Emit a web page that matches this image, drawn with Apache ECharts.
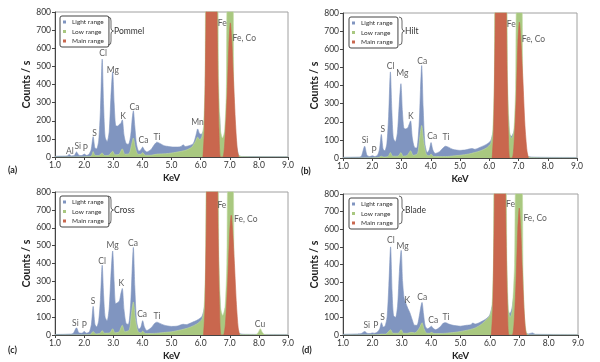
<!DOCTYPE html>
<html><head><meta charset="utf-8">
<script src="https://cdn.jsdelivr.net/npm/echarts@6/dist/echarts.min.js"></script>
<style>html,body{margin:0;padding:0;background:#fff}#c{width:600px;height:362px}</style>
</head><body><div id="c"></div>
<script>
// ---------- DATA (keV, counts/s) ----------
const seriesNames = ['Light range', 'Low range', 'Main range'];
const panelNames = ['Pommel', 'Hilt', 'Cross', 'Blade'];
const panelTags = ['(a)', '(b)', '(c)', '(d)'];
const xTicks = [1, 2, 3, 4, 5, 6, 7, 8, 9];
const yTicks = [0, 100, 200, 300, 400, 500, 600, 700, 800];

const lightA = [[1.0,4],[1.3,5],[1.42,6],[1.49,14],[1.56,6],[1.66,8],[1.74,28],[1.82,10],[1.92,8],[2.01,16],[2.08,9],[2.16,14],[2.24,40],[2.31,112],[2.37,50],[2.43,45],[2.5,90],[2.56,260],[2.62,540],[2.67,280],[2.72,110],[2.79,85],[2.86,140],[2.92,330],[2.98,470],[3.03,300],[3.08,175],[3.14,170],[3.21,180],[3.26,185],[3.31,205],[3.37,120],[3.44,75],[3.52,70],[3.6,120],[3.65,210],[3.69,255],[3.74,170],[3.8,70],[3.88,32],[3.95,40],[4.01,55],[4.07,38],[4.15,28],[4.3,42],[4.42,70],[4.5,82],[4.6,75],[4.75,62],[4.9,58],[5.05,55],[5.2,55],[5.33,58],[5.4,68],[5.47,58],[5.6,62],[5.75,75],[5.84,120],[5.9,155],[5.96,130],[6.02,125],[6.08,140],[6.15,180],[6.25,250],[6.6,250],[6.7,100],[6.76,90],[6.85,150],[7.0,300],[7.2,100],[7.3,10],[7.4,3],[9.0,2]];
const lowA = [[1.0,0],[2.2,2],[2.26,8],[2.31,30],[2.37,10],[2.5,8],[2.62,22],[2.7,8],[2.85,10],[2.98,32],[3.06,12],[3.2,15],[3.31,45],[3.4,15],[3.55,20],[3.63,70],[3.69,105],[3.76,50],[3.85,15],[3.95,15],[4.01,25],[4.1,10],[4.3,10],[4.5,16],[4.8,18],[5.0,22],[5.3,30],[5.5,38],[5.7,55],[5.82,85],[5.9,110],[5.97,95],[6.04,110],[6.1,170],[6.15,400],[6.2,1000],[6.55,1000],[6.62,400],[6.68,150],[6.75,105],[6.82,140],[6.88,350],[6.93,900],[7.1,900],[7.14,350],[7.2,100],[7.28,15],[7.4,2],[9.0,0]];
const mainA = [[6.08,0],[6.13,150],[6.18,700],[6.22,1500],[6.52,1500],[6.57,700],[6.63,150],[6.68,0],[6.76,0],[6.82,60],[6.9,300],[6.97,620],[7.02,740],[7.07,640],[7.13,420],[7.2,180],[7.26,40],[7.31,0]];
const labelsA = [[1.51,29,'Al'],[1.78,57,'Si'],[2.04,48,'P'],[2.36,131,'S'],[2.65,572,'Cl'],[2.99,480,'Mg'],[3.34,222,'K'],[3.73,272,'Ca'],[4.04,90,'Ca'],[4.5,109,'Ti'],[5.89,189,'Mn'],[6.74,738,'Fe'],[7.5,655,'Fe, Co']];

const lightB = [[1.0,4],[1.5,5],[1.62,8],[1.74,65],[1.82,15],[1.92,8],[2.01,12],[2.08,8],[2.18,15],[2.25,50],[2.31,130],[2.37,50],[2.43,40],[2.5,80],[2.56,230],[2.62,475],[2.67,260],[2.72,110],[2.79,90],[2.86,140],[2.92,290],[2.98,410],[3.03,260],[3.08,165],[3.14,160],[3.21,165],[3.26,185],[3.31,205],[3.37,110],[3.44,60],[3.52,55],[3.6,180],[3.65,380],[3.69,510],[3.74,280],[3.8,80],[3.88,30],[3.95,45],[4.01,85],[4.07,45],[4.15,25],[4.3,35],[4.42,55],[4.5,65],[4.6,60],[4.75,48],[5.0,42],[5.2,45],[5.4,52],[5.5,48],[5.7,60],[5.9,75],[6.05,95],[6.15,160],[6.25,250],[6.6,250],[6.7,130],[6.76,120],[6.85,150],[7.0,300],[7.2,100],[7.3,12],[7.5,5],[9.0,3]];
const lowB = [[1.0,0],[2.2,2],[2.31,10],[2.4,5],[2.55,10],[2.62,30],[2.7,10],[2.88,10],[2.98,30],[3.06,10],[3.2,15],[3.31,40],[3.4,15],[3.55,25],[3.62,110],[3.69,180],[3.76,90],[3.85,20],[3.95,12],[4.01,22],[4.1,8],[4.5,8],[4.8,12],[5.0,15],[5.3,22],[5.5,30],[5.7,40],[5.9,55],[6.05,80],[6.12,150],[6.17,400],[6.22,1000],[6.56,1000],[6.63,400],[6.69,150],[6.76,108],[6.84,150],[6.9,380],[6.95,900],[7.1,900],[7.15,350],[7.22,100],[7.3,15],[7.4,2],[9.0,0]];
const mainB = [[6.1,0],[6.15,150],[6.2,700],[6.24,1500],[6.54,1500],[6.59,700],[6.65,150],[6.7,0],[6.78,0],[6.84,60],[6.92,320],[6.98,640],[7.03,750],[7.08,650],[7.15,430],[7.22,180],[7.29,40],[7.34,0]];
const labelsB = [[1.75,99,'Si'],[2.06,44,'P'],[2.36,158,'S'],[2.63,504,'Cl'],[3.03,467,'Mg'],[3.32,232,'K'],[3.71,531,'Ca'],[4.05,118,'Ca'],[4.52,112,'Ti'],[6.75,739,'Fe'],[7.51,655,'Fe, Co']];

const lightC = [[1.0,3],[1.5,5],[1.62,8],[1.74,40],[1.82,12],[1.92,10],[2.01,20],[2.08,10],[2.18,18],[2.25,60],[2.31,160],[2.37,60],[2.43,45],[2.5,80],[2.56,200],[2.62,390],[2.67,220],[2.72,100],[2.79,80],[2.86,150],[2.92,330],[2.98,470],[3.03,300],[3.08,175],[3.14,180],[3.21,190],[3.26,230],[3.31,260],[3.37,140],[3.44,65],[3.52,60],[3.6,180],[3.65,370],[3.69,490],[3.74,270],[3.8,80],[3.88,32],[3.95,45],[4.01,80],[4.07,45],[4.15,25],[4.3,40],[4.42,65],[4.5,72],[4.6,65],[4.75,55],[5.0,48],[5.2,50],[5.4,60],[5.5,58],[5.7,70],[5.9,85],[6.05,105],[6.15,170],[6.25,250],[6.6,250],[6.7,110],[6.76,100],[6.85,150],[7.0,300],[7.2,100],[7.3,12],[7.5,4],[9.0,3]];
const lowC = [[1.0,0],[2.2,2],[2.31,20],[2.4,6],[2.55,10],[2.62,25],[2.7,10],[2.88,12],[2.98,35],[3.06,12],[3.2,18],[3.31,55],[3.4,18],[3.55,28],[3.62,115],[3.69,185],[3.76,90],[3.85,20],[3.95,12],[4.01,22],[4.1,8],[4.5,10],[4.8,15],[5.0,18],[5.3,28],[5.5,36],[5.7,48],[5.9,65],[6.05,90],[6.12,160],[6.17,400],[6.22,1000],[6.56,1000],[6.63,400],[6.69,150],[6.76,110],[6.84,160],[6.9,400],[6.95,900],[7.1,900],[7.15,350],[7.22,100],[7.3,15],[7.4,2],[7.9,2],[7.98,15],[8.05,35],[8.12,15],[8.2,2],[9.0,0]];
const mainC = [[6.1,0],[6.15,150],[6.2,700],[6.24,1500],[6.54,1500],[6.59,700],[6.65,150],[6.7,0],[6.78,0],[6.85,60],[6.93,300],[7.0,580],[7.05,670],[7.1,580],[7.16,400],[7.23,170],[7.29,40],[7.34,0]];
const labelsC = [[1.7,64,'Si'],[2.01,55,'P'],[2.31,189,'S'],[2.62,414,'Cl'],[2.98,502,'Mg'],[3.28,287,'K'],[3.68,511,'Ca'],[3.99,116,'Ca'],[4.5,107,'Ti'],[6.73,728,'Fe'],[7.55,649,'Fe, Co'],[8.04,61,'Cu']];

const lightD = [[1.0,4],[1.5,6],[1.62,8],[1.74,20],[1.82,10],[1.92,8],[2.0,12],[2.08,10],[2.18,18],[2.25,35],[2.31,70],[2.37,45],[2.43,50],[2.5,100],[2.56,280],[2.62,500],[2.67,250],[2.72,110],[2.79,100],[2.86,170],[2.92,360],[2.98,480],[3.03,300],[3.08,210],[3.14,180],[3.21,150],[3.28,125],[3.35,90],[3.44,55],[3.52,55],[3.6,110],[3.65,160],[3.69,185],[3.74,120],[3.8,50],[3.88,35],[3.95,42],[4.01,50],[4.07,38],[4.15,30],[4.3,45],[4.42,68],[4.5,70],[4.6,62],[4.75,55],[5.0,50],[5.2,55],[5.35,58],[5.42,68],[5.5,62],[5.7,75],[5.9,95],[6.0,115],[6.1,180],[6.2,250],[6.55,250],[6.62,140],[6.68,120],[6.75,150],[6.9,300],[7.1,100],[7.2,15],[7.3,6],[7.45,12],[7.55,4],[9.0,3]];
const lowD = [[1.0,0],[2.2,2],[2.31,5],[2.45,5],[2.62,30],[2.7,10],[2.88,10],[2.98,30],[3.06,10],[3.2,10],[3.31,15],[3.45,12],[3.6,40],[3.69,70],[3.76,35],[3.85,10],[3.95,10],[4.01,15],[4.1,8],[4.5,10],[4.8,15],[5.0,20],[5.3,30],[5.5,40],[5.7,60],[5.9,90],[6.0,110],[6.07,160],[6.12,400],[6.17,1000],[6.52,1000],[6.58,400],[6.63,150],[6.69,100],[6.76,140],[6.84,400],[6.9,900],[7.08,900],[7.13,350],[7.18,100],[7.25,10],[7.35,0],[9.0,0]];
const mainD = [[6.05,0],[6.1,150],[6.15,700],[6.19,1500],[6.49,1500],[6.54,700],[6.6,150],[6.65,0],[6.76,0],[6.82,60],[6.89,300],[6.95,600],[7.0,720],[7.05,600],[7.1,380],[7.16,150],[7.21,30],[7.25,0]];
const labelsD = [[1.81,53,'Si'],[2.12,53,'P'],[2.35,103,'S'],[2.63,539,'Cl'],[3.03,503,'Mg'],[3.19,197,'K'],[3.7,212,'Ca'],[4.07,85,'Ca'],[4.51,103,'Ti'],[6.7,742,'Fe'],[7.54,663,'Fe, Co']];

// ---------- LAYOUT ----------
const FONT = 'Lato, "Open Sans", sans-serif';
const colors = ['#8095c0', '#a9c880', '#c9674e'];
const grids = [
  {left: 55, top: 12, width: 233, height: 145},
  {left: 343, top: 13, width: 234, height: 145},
  {left: 55, top: 192, width: 233, height: 145},
  {left: 343, top: 194, width: 235, height: 142}
];
const panels = [
  [lightA, lowA, mainA, labelsA],
  [lightB, lowB, mainB, labelsB],
  [lightC, lowC, mainC, labelsC],
  [lightD, lowD, mainD, labelsD]
];

const option = {
  animation: false,
  textStyle: {fontFamily: FONT},
  grid: [], xAxis: [], yAxis: [], series: [], legend: [], graphic: []
};

grids.forEach((g, i) => {
  option.grid.push(Object.assign({show: true, borderColor: '#a0a0a0', borderWidth: 1, backgroundColor: '#fff'}, g));
  option.xAxis.push({
    type: 'value', gridIndex: i, min: xTicks[0], max: xTicks[xTicks.length - 1], interval: 1,
    name: 'KeV', nameLocation: 'middle', nameGap: 16,
    nameTextStyle: {fontSize: 9.5, fontWeight: 'bold', color: '#222', fontFamily: FONT},
    axisLine: {show: true, onZero: false, lineStyle: {color: '#444', width: 1}},
    axisTick: {show: true, length: 3, lineStyle: {color: '#444'}},
    axisLabel: {fontSize: 8.5, color: '#333', margin: 4, formatter: v => v.toFixed(1), fontFamily: FONT},
    splitLine: {show: false}
  });
  option.yAxis.push({
    type: 'value', gridIndex: i, min: yTicks[0], max: yTicks[yTicks.length - 1], interval: 100,
    name: 'Counts / s', nameLocation: 'middle', nameGap: 23, nameRotate: 90,
    nameTextStyle: {fontSize: 10.5, fontWeight: 'bold', color: '#222', fontFamily: FONT},
    axisLine: {show: true, lineStyle: {color: '#444', width: 1}},
    axisTick: {show: true, length: 3, lineStyle: {color: '#444'}},
    axisLabel: {fontSize: 8.5, color: '#333', margin: 4, fontFamily: FONT},
    splitLine: {show: false}
  });
  const p = panels[i];
  for (let k = 0; k < 3; k++) {
    option.series.push({
      name: seriesNames[k], type: 'line', xAxisIndex: i, yAxisIndex: i,
      data: p[k], showSymbol: false, symbol: 'none', smooth: 0.25, clip: true,
      lineStyle: {width: 0.6, color: k === 1 ? '#c3dba2' : colors[k]},
      itemStyle: {color: colors[k]},
      areaStyle: {color: colors[k], opacity: 1},
      z: 2 + k
    });
  }
  option.series.push({
    type: 'scatter', xAxisIndex: i, yAxisIndex: i, symbolSize: 0, silent: true, z: 10,
    data: p[3].map(d => ({value: [d[0], d[1]], name: d[2]})),
    label: {show: true, position: 'inside', formatter: q => q.name, fontSize: 8.5, color: '#333', fontFamily: FONT}
  });
  option.legend.push({
    data: seriesNames, orient: 'vertical', left: g.left + (i % 2 ? 6 : 5), top: g.top + 4,
    icon: 'rect', itemWidth: 3, itemHeight: 3, itemGap: 1.5,
    padding: [2, 5, 2, 3], borderColor: '#444', borderWidth: 1, borderRadius: 2, backgroundColor: '#fff',
    textStyle: {fontSize: 6.5, color: '#333', lineHeight: 8, fontFamily: FONT, padding: [0, 0, 0, 1]},
    selectedMode: false
  });
});

const braceX = [108, 399, 108, 399];
const braceY = [17, 17, 196, 196];
const tagPos = [[8, 166], [301, 167], [8, 346], [302, 346]];
grids.forEach((g, i) => {
  option.graphic.push({
    type: 'polyline', x: braceX[i], y: braceY[i], silent: true, z: 20,
    shape: {points: [[0,0],[2.5,1],[3,4],[3,11],[3.5,13],[5.5,14],[3.5,15],[3,17],[3,24],[2.5,27],[0,28]]},
    style: {fill: null, stroke: '#444', lineWidth: 0.8}
  });
  option.graphic.push({
    type: 'text', x: braceX[i] + 6, y: braceY[i] + 14, silent: true, z: 20,
    style: {text: panelNames[i], fill: '#333', font: '8.5px ' + FONT, verticalAlign: 'middle'}
  });
  option.graphic.push({
    type: 'text', x: tagPos[i][0], y: tagPos[i][1], silent: true, z: 20,
    style: {text: panelTags[i], fill: '#222', font: 'bold 9px ' + FONT}
  });
});

const chart = echarts.init(document.getElementById('c'), null, {renderer: 'canvas'});
chart.setOption(option);
</script>
</body></html>
